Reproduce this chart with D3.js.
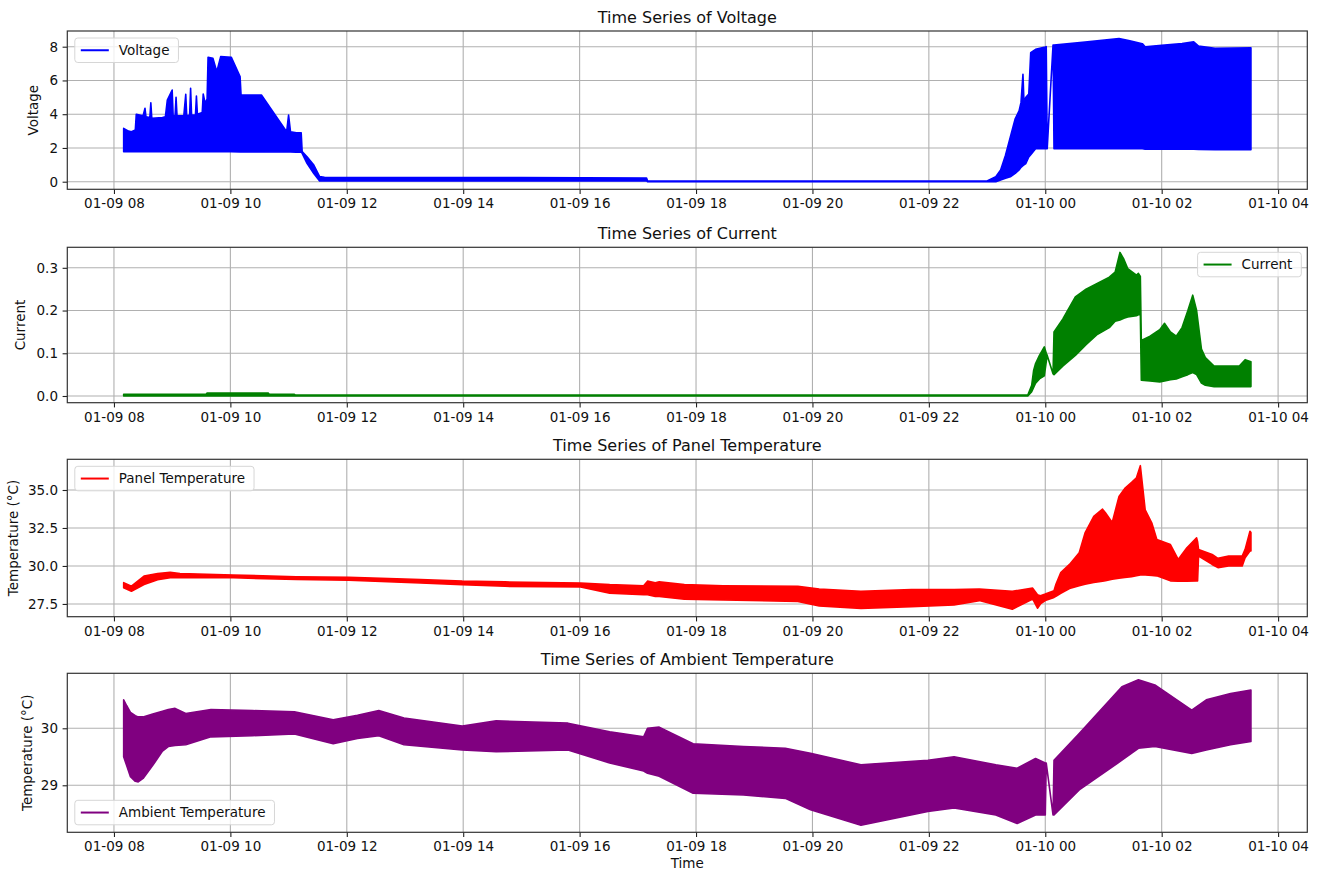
<!DOCTYPE html>
<html>
<head>
<meta charset="utf-8">
<script src="https://cdn.jsdelivr.net/npm/d3@7/dist/d3.min.js"></script>
<style>
  html, body { margin: 0; padding: 0; background: #fff; }
  svg { display: block; font-family: "DejaVu Sans", sans-serif; }
</style>
</head>
<body>
<svg id="chart" width="1321" height="873"></svg>
<script>
// ---------------- DATA (envelopes of the dense signals) ----------------
const voltageTime = ["01-09 08:10","01-09 08:15","01-09 08:18","01-09 08:22","01-09 08:23","01-09 08:30","01-09 08:32","01-09 08:33","01-09 08:37","01-09 08:38","01-09 08:39","01-09 08:50","01-09 08:53","01-09 08:55","01-09 09:00","01-09 09:01","01-09 09:03","01-09 09:04","01-09 09:05","01-09 09:12","01-09 09:14","01-09 09:15","01-09 09:18","01-09 09:19","01-09 09:20","01-09 09:24","01-09 09:25","01-09 09:26","01-09 09:31","01-09 09:32","01-09 09:34","01-09 09:36","01-09 09:37","01-09 09:42","01-09 09:46","01-09 09:50","01-09 10:01","01-09 10:10","01-09 10:11","01-09 10:32","01-09 10:58","01-09 11:00","01-09 11:02","01-09 11:08","01-09 11:13","01-09 11:14","01-09 11:19","01-09 11:26","01-09 11:32","01-09 11:37","01-09 13:00","01-09 15:00","01-09 17:09","01-09 17:10","01-09 23:00","01-09 23:09","01-09 23:14","01-09 23:19","01-09 23:24","01-09 23:29","01-09 23:33","01-09 23:35","01-09 23:37","01-09 23:38","01-09 23:40","01-09 23:43","01-09 23:45","01-09 23:50","01-10 00:00","01-10 00:01","01-10 00:02","01-10 00:08","01-10 00:09","01-10 00:41","01-10 01:16","01-10 01:26","01-10 01:40","01-10 01:43","01-10 02:00","01-10 02:21","01-10 02:33","01-10 02:38","01-10 02:55","01-10 03:32"];
const voltageLow  = [1.78,1.78,1.78,1.78,1.78,1.78,1.78,1.78,1.78,1.78,1.78,1.78,1.78,1.78,1.78,1.78,1.78,1.78,1.78,1.78,1.78,1.78,1.78,1.78,1.78,1.78,1.78,1.78,1.78,1.78,1.78,1.78,1.78,1.78,1.78,1.78,1.78,1.77,1.77,1.77,1.76,1.76,1.76,1.75,1.75,1.68,1.09,0.49,0.04,0.05,0.05,0.05,0.05,0.0,0.0,0.0,0.1,0.2,0.29,0.49,0.7,0.85,0.95,1.0,1.08,1.47,1.6,1.96,1.96,1.96,1.96,8.1,1.96,1.96,1.96,1.96,1.95,1.92,1.92,1.92,1.92,1.91,1.9,1.9];
const voltageHigh = [3.16,3.0,2.96,3.06,4.0,3.9,4.35,3.85,3.8,4.68,3.75,3.8,3.85,4.84,5.43,3.9,3.9,5.0,3.9,3.9,5.18,3.9,3.95,5.53,3.95,3.95,5.08,4.0,4.1,5.2,4.64,4.9,7.37,7.31,6.52,7.41,7.37,6.23,5.14,5.14,2.96,3.95,2.96,2.9,2.9,1.78,1.48,0.99,0.3,0.26,0.25,0.25,0.22,0.04,0.04,0.3,0.69,1.57,2.65,3.73,4.2,4.7,6.37,4.8,5.0,5.2,7.65,7.84,7.98,8.0,1.96,8.1,8.1,8.27,8.49,8.37,8.18,8.0,8.08,8.18,8.29,8.04,7.9,7.94];

const currentTime = ["01-09 08:10","01-09 09:35","01-09 09:36","01-09 10:39","01-09 10:40","01-09 11:06","01-09 11:07","01-09 23:42","01-09 23:46","01-09 23:48","01-09 23:50","01-09 23:54","01-09 23:59","01-10 00:01","01-10 00:02","01-10 00:08","01-10 00:09","01-10 00:18","01-10 00:31","01-10 00:42","01-10 00:53","01-10 01:06","01-10 01:12","01-10 01:17","01-10 01:21","01-10 01:25","01-10 01:34","01-10 01:36","01-10 01:38","01-10 01:39","01-10 01:48","01-10 01:58","01-10 02:03","01-10 02:09","01-10 02:15","01-10 02:21","01-10 02:27","01-10 02:32","01-10 02:36","01-10 02:41","01-10 02:45","01-10 02:54","01-10 03:20","01-10 03:26","01-10 03:32"];
const currentLow  = [0.0,0.0,0.0,0.0,0.0,0.0,0.0,0.0,0.01,0.02,0.03,0.04,0.047,0.08,0.095,0.052,0.05,0.07,0.095,0.12,0.143,0.16,0.175,0.178,0.182,0.185,0.188,0.19,0.19,0.037,0.035,0.033,0.035,0.038,0.04,0.045,0.05,0.055,0.05,0.03,0.025,0.022,0.022,0.022,0.022];
const currentHigh = [0.004,0.004,0.007,0.007,0.004,0.004,0.002,0.002,0.025,0.06,0.076,0.095,0.115,0.10,0.095,0.052,0.15,0.18,0.232,0.25,0.263,0.278,0.29,0.336,0.32,0.298,0.283,0.287,0.28,0.13,0.14,0.155,0.17,0.15,0.14,0.16,0.2,0.236,0.2,0.11,0.09,0.07,0.07,0.085,0.08];

const panelTime = ["01-09 08:10","01-09 08:18","01-09 08:31","01-09 08:45","01-09 08:58","01-09 09:08","01-09 10:03","01-09 11:08","01-09 12:02","01-09 13:16","01-09 13:59","01-09 14:43","01-09 16:01","01-09 16:31","01-09 17:06","01-09 17:10","01-09 17:18","01-09 17:22","01-09 17:48","01-09 18:28","01-09 19:45","01-09 20:07","01-09 20:50","01-09 21:42","01-09 22:26","01-09 22:52","01-09 23:26","01-09 23:47","01-09 23:52","01-09 23:55","01-10 00:00","01-10 00:09","01-10 00:11","01-10 00:16","01-10 00:25","01-10 00:35","01-10 00:41","01-10 00:50","01-10 00:59","01-10 01:02","01-10 01:09","01-10 01:16","01-10 01:22","01-10 01:29","01-10 01:34","01-10 01:38","01-10 01:43","01-10 01:50","01-10 01:55","01-10 02:09","01-10 02:17","01-10 02:26","01-10 02:36","01-10 02:37","01-10 02:38","01-10 02:52","01-10 02:58","01-10 03:09","01-10 03:23","01-10 03:26","01-10 03:31","01-10 03:32"];
const panelLow  = [28.57,28.34,28.78,29.10,29.22,29.25,29.22,29.11,29.06,28.88,28.77,28.66,28.62,28.21,28.10,28.10,28.00,27.99,27.81,27.77,27.66,27.37,27.21,27.32,27.43,27.72,27.15,27.83,27.22,27.50,27.72,27.93,28.00,28.20,28.52,28.70,28.80,28.91,29.00,29.03,29.13,29.20,29.25,29.30,29.35,29.40,29.40,29.38,29.35,29.02,29.00,29.00,29.02,29.02,30.65,30.10,29.89,30.00,30.00,30.54,30.98,30.98];
const panelHigh = [28.90,28.67,29.33,29.50,29.58,29.50,29.40,29.29,29.25,29.11,29.00,28.95,28.88,28.77,28.70,29.00,28.90,28.95,28.77,28.70,28.66,28.48,28.33,28.44,28.44,28.48,28.33,28.54,28.10,28.04,28.15,28.37,28.80,29.57,30.10,30.87,32.17,33.26,33.74,33.50,32.87,34.57,35.10,35.50,35.80,36.60,33.70,32.80,31.74,31.41,30.43,31.20,31.85,31.60,31.09,30.76,30.50,30.65,30.65,31.09,32.28,32.20];

const ambientTime = ["01-09 08:10","01-09 08:13","01-09 08:17","01-09 08:22","01-09 08:25","01-09 08:30","01-09 08:40","01-09 08:50","01-09 08:56","01-09 09:03","01-09 09:14","01-09 09:40","01-09 10:23","01-09 11:06","01-09 11:46","01-09 12:11","01-09 12:33","01-09 12:59","01-09 13:59","01-09 14:34","01-09 15:48","01-09 16:31","01-09 17:06","01-09 17:10","01-09 17:22","01-09 17:57","01-09 18:49","01-09 19:32","01-09 19:58","01-09 20:50","01-09 21:59","01-09 22:26","01-09 23:09","01-09 23:31","01-09 23:50","01-10 00:00","01-10 00:01","01-10 00:08","01-10 00:09","01-10 00:35","01-10 01:19","01-10 01:36","01-10 01:53","01-10 02:31","01-10 02:46","01-10 03:11","01-10 03:32"];
const ambientLow  = [29.50,29.35,29.15,29.07,29.06,29.12,29.35,29.60,29.68,29.70,29.71,29.85,29.87,29.90,29.73,29.82,29.87,29.71,29.62,29.59,29.62,29.39,29.25,29.21,29.16,28.86,28.83,28.77,28.57,28.30,28.54,28.60,28.48,28.33,28.48,28.48,29.39,28.48,28.48,28.92,29.44,29.65,29.68,29.56,29.62,29.71,29.77];
const ambientHigh = [30.50,30.40,30.28,30.22,30.20,30.20,30.25,30.30,30.33,30.35,30.26,30.33,30.31,30.29,30.15,30.23,30.31,30.18,30.04,30.13,30.09,29.94,29.85,30.00,30.02,29.73,29.68,29.65,29.56,29.36,29.44,29.50,29.36,29.30,29.47,29.39,29.39,28.48,29.44,29.91,30.73,30.85,30.76,30.32,30.50,30.61,30.67];

const voltageTicks = [0, 2, 4, 6, 8];
const currentTicks = [0.0, 0.1, 0.2, 0.3];
const panelTicks   = [27.5, 30.0, 32.5, 35.0];
const ambientTicks = [29, 30];

// ---------------- LAYOUT ----------------
const parse = d3.timeParse("%m-%d %H:%M");
const svg = d3.select("#chart");
const left = 67.3, right = 1307.3;

const allTimes = [...voltageTime, ...currentTime, ...panelTime, ...ambientTime].map(parse);
const [t0, t1] = d3.extent(allTimes);
const pad = (t1 - t0) * 0.05;
const x = d3.scaleTime().domain([new Date(+t0 - pad), new Date(+t1 + pad)]).range([left, right]);

const panels = [
  { title: "Time Series of Voltage", ylabel: "Voltage", label: "Voltage", color: "#0000ff",
    time: voltageTime, low: voltageLow, high: voltageHigh, ticks: voltageTicks, fmt: d3.format("d"),
    top: 31, bottom: 189.3, domain: [-0.45, 8.93], ylabX: 38, legend: "ul" },
  { title: "Time Series of Current", ylabel: "Current", label: "Current", color: "#008000",
    time: currentTime, low: currentLow, high: currentHigh, ticks: currentTicks, fmt: d3.format(".1f"),
    top: 247.3, bottom: 402.7, domain: [-0.0157, 0.348], ylabX: 25, legend: "ur" },
  { title: "Time Series of Panel Temperature", ylabel: "Temperature (°C)", label: "Panel Temperature", color: "#ff0000",
    time: panelTime, low: panelLow, high: panelHigh, ticks: panelTicks, fmt: d3.format(".1f"),
    top: 459.3, bottom: 616.7, domain: [26.66, 37.02], ylabX: 17.5, legend: "ul" },
  { title: "Time Series of Ambient Temperature", ylabel: "Temperature (°C)", label: "Ambient Temperature", color: "#800080",
    time: ambientTime, low: ambientLow, high: ambientHigh, ticks: ambientTicks, fmt: d3.format("d"),
    top: 673.3, bottom: 832.3, domain: [28.175, 30.965], ylabX: 31.5, legend: "ll" }
];

const tickFont = 13.5;

panels.forEach((p, i) => {
  const y = d3.scaleLinear().domain(p.domain).range([p.bottom, p.top]);
  const g = svg.append("g");
  const clipId = "clip" + i;
  svg.append("clipPath").attr("id", clipId).append("rect")
    .attr("x", left).attr("y", p.top).attr("width", right - left).attr("height", p.bottom - p.top);

  // grid
  const xt = x.ticks(d3.timeHour.every(2));
  g.selectAll(".vg").data(xt).join("line")
    .attr("x1", d => x(d)).attr("x2", d => x(d)).attr("y1", p.top).attr("y2", p.bottom)
    .attr("stroke", "#b0b0b0").attr("stroke-width", 1.1);
  g.selectAll(".hg").data(p.ticks).join("line")
    .attr("x1", left).attr("x2", right).attr("y1", d => y(d)).attr("y2", d => y(d))
    .attr("stroke", "#b0b0b0").attr("stroke-width", 1.1);

  // data envelope
  const rows = p.time.map((t, k) => ({ t: parse(t), lo: p.low[k], hi: p.high[k] }));
  const area = d3.area().x(d => x(d.t)).y0(d => y(d.lo)).y1(d => y(d.hi));
  g.append("path").datum(rows).attr("d", area)
    .attr("clip-path", `url(#${clipId})`)
    .attr("fill", p.color).attr("stroke", p.color).attr("stroke-width", 1.6)
    .attr("stroke-linejoin", "round");

  // axes
  const xAxis = d3.axisBottom(x).ticks(d3.timeHour.every(2)).tickFormat(d3.timeFormat("%m-%d %H"))
    .tickSizeOuter(0).tickSize(4.7).tickPadding(4.6);
  const xg = svg.append("g").attr("transform", `translate(0,${p.bottom})`).call(xAxis);
  const yAxis = d3.axisLeft(y).tickValues(p.ticks).tickFormat(p.fmt)
    .tickSizeOuter(0).tickSize(4.7).tickPadding(4.6);
  const yg = svg.append("g").attr("transform", `translate(${left},0)`).call(yAxis);
  [xg, yg].forEach(a => {
    a.select(".domain").remove();
    a.selectAll(".tick line").attr("stroke", "#222").attr("stroke-width", 1.1);
    a.selectAll(".tick text").attr("fill", "#111").attr("font-size", tickFont)
      .attr("font-family", "DejaVu Sans");
  });

  // frame
  svg.append("rect").attr("x", left).attr("y", p.top).attr("width", right - left)
    .attr("height", p.bottom - p.top).attr("fill", "none").attr("stroke", "#333").attr("stroke-width", 1.2);

  // title
  svg.append("text").attr("x", (left + right) / 2).attr("y", p.top - 8)
    .attr("text-anchor", "middle").attr("font-size", 16).attr("fill", "#111").text(p.title);

  // y label
  svg.append("text").attr("transform", `translate(${p.ylabX},${(p.top + p.bottom) / 2}) rotate(-90)`)
    .attr("text-anchor", "middle").attr("font-size", tickFont).attr("fill", "#111").text(p.ylabel);

  // legend
  const lg = svg.append("g");
  const txt = lg.append("text").attr("font-size", tickFont).attr("fill", "#111").text(p.label);
  const tw = txt.node().getComputedTextLength();
  const lw = 8 + 28 + 10 + tw + 7, lh = 24.5;
  let lx, ly;
  if (p.legend === "ul") { lx = left + 7.5; ly = p.top + 7; }
  else if (p.legend === "ur") { lx = right - 6 - lw; ly = p.top + 5; }
  else { lx = left + 7.5; ly = p.bottom - 7.5 - lh; }
  lg.insert("rect", "text").attr("x", lx).attr("y", ly).attr("width", lw).attr("height", lh)
    .attr("rx", 3).attr("fill", "#fff").attr("fill-opacity", 0.8).attr("stroke", "#d6d6d6").attr("stroke-width", 1);
  lg.append("line").attr("x1", lx + 6).attr("x2", lx + 34).attr("y1", ly + lh / 2).attr("y2", ly + lh / 2)
    .attr("stroke", p.color).attr("stroke-width", 2);
  txt.attr("x", lx + 44).attr("y", ly + lh / 2 + 4.8);
});

// x label
svg.append("text").attr("x", (left + right) / 2).attr("y", 868)
  .attr("text-anchor", "middle").attr("font-size", tickFont).attr("fill", "#111").text("Time");
</script>
</body>
</html>
